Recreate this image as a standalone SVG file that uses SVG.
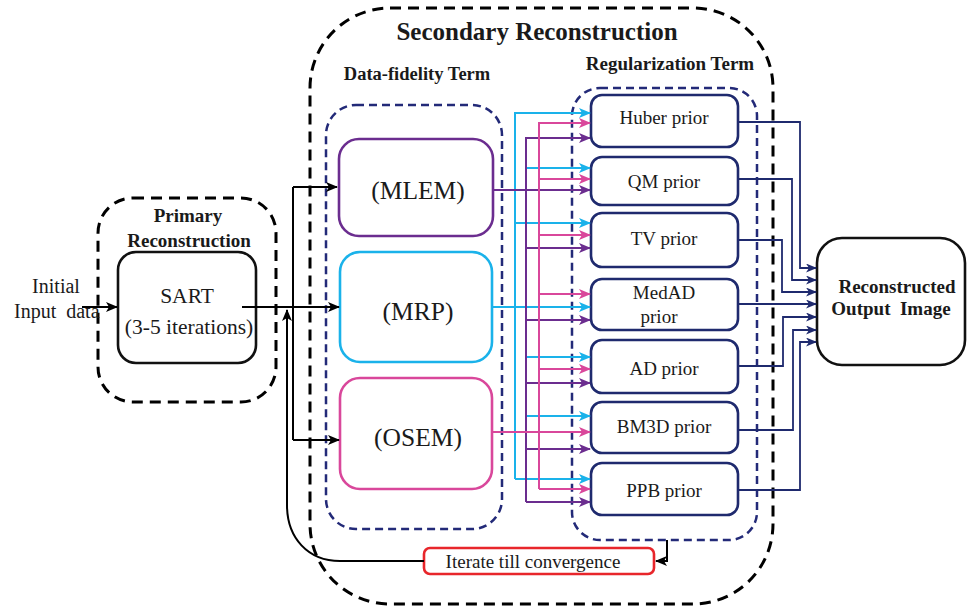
<svg xmlns="http://www.w3.org/2000/svg" width="967" height="609" viewBox="0 0 967 609">
<style>
text{font-family:"Liberation Serif","Times New Roman",serif;fill:#1a1a1a;white-space:pre}
.b{font-weight:bold}
.blk{fill:none;stroke:#000;stroke-width:3;stroke-dasharray:11 7}
.nvd{fill:none;stroke:#232a78;stroke-width:2.5;stroke-dasharray:8 5}
.box{fill:#fff;stroke-width:2.6}
.c{fill:none;stroke-width:2}
.k{stroke:#000}.cy{stroke:#1ab2ea}.pk{stroke:#d9479b}.pu{stroke:#6b2d8f}.nv{stroke:#1f2a6e;stroke-width:1.8}
</style>
<defs>
<marker id="ak" markerUnits="userSpaceOnUse" markerWidth="12" markerHeight="10" refX="11" refY="5" orient="auto"><path d="M0,0 L12,5 L0,10 L3,5 z" fill="#000"/></marker>
<marker id="acy" markerUnits="userSpaceOnUse" markerWidth="12" markerHeight="10" refX="11" refY="5" orient="auto"><path d="M0,0 L12,5 L0,10 L3,5 z" fill="#1ab2ea"/></marker>
<marker id="apk" markerUnits="userSpaceOnUse" markerWidth="12" markerHeight="10" refX="11" refY="5" orient="auto"><path d="M0,0 L12,5 L0,10 L3,5 z" fill="#d9479b"/></marker>
<marker id="apu" markerUnits="userSpaceOnUse" markerWidth="12" markerHeight="10" refX="11" refY="5" orient="auto"><path d="M0,0 L12,5 L0,10 L3,5 z" fill="#6b2d8f"/></marker>
<marker id="anv" markerUnits="userSpaceOnUse" markerWidth="11" markerHeight="9" refX="10" refY="4.5" orient="auto"><path d="M0,0 L11,4.5 L0,9 L3,4.5 z" fill="#1f2a6e"/></marker>
</defs>

<g id="secondary">
<rect class="blk" x="310" y="8" width="463" height="596" rx="80"/>
<text class="b" x="537" y="40" font-size="25" text-anchor="middle">Secondary Reconstruction</text>
</g>
<g id="primary">
<rect class="blk" x="98" y="198" width="178" height="204" rx="35"/>
<text class="b" x="188" y="222" font-size="19" text-anchor="middle">Primary</text>
<text class="b" x="189" y="247" font-size="19" text-anchor="middle">Reconstruction</text>
</g>
<g id="data-fidelity">
<rect class="nvd" x="326" y="105" width="176" height="424" rx="30"/>
<text class="b" x="417" y="80" font-size="18.5" text-anchor="middle">Data-fidelity Term</text>
</g>
<g id="regularization">
<rect class="nvd" x="572" y="88" width="185" height="452" rx="28"/>
<text class="b" x="670" y="70" font-size="19" text-anchor="middle">Regularization Term</text>
</g>

<g id="input">
<text x="56" y="293" font-size="20" text-anchor="middle">Initial</text>
<text x="14" y="318" font-size="20">Input  data</text>
</g>
<g id="sart">
<rect class="box" stroke="#111" x="118" y="252" width="138" height="111" rx="18"/>
<text x="187" y="303" font-size="21.5" text-anchor="middle">SART</text>
<text x="189" y="334" font-size="21.5" text-anchor="middle">(3-5 iterations)</text>
</g>
<g id="mlem">
<rect class="box" stroke="#6b2d8f" x="339" y="139" width="154" height="97" rx="20"/>
<text x="418" y="199" font-size="25.5" text-anchor="middle">(MLEM)</text>
</g>
<g id="mrp">
<rect class="box" stroke="#1ab2ea" x="340" y="252" width="152" height="110" rx="20"/>
<text x="418" y="320" font-size="25.5" text-anchor="middle">(MRP)</text>
</g>
<g id="osem">
<rect class="box" stroke="#d9479b" x="340" y="378" width="152" height="111" rx="20"/>
<text x="418" y="446" font-size="25.5" text-anchor="middle">(OSEM)</text>
</g>

<g id="huber"><rect class="box" stroke="#1f2a6e" x="591" y="95" width="147" height="52" rx="11"/><text x="664" y="124" font-size="19" text-anchor="middle">Huber prior</text></g>
<g id="qm"><rect class="box" stroke="#1f2a6e" x="591" y="157" width="147" height="48" rx="11"/><text x="664" y="188" font-size="19" text-anchor="middle">QM prior</text></g>
<g id="tv"><rect class="box" stroke="#1f2a6e" x="591" y="213" width="147" height="54" rx="11"/><text x="664" y="245" font-size="19" text-anchor="middle">TV prior</text></g>
<g id="medad"><rect class="box" stroke="#1f2a6e" x="591" y="279" width="147" height="51" rx="11"/><text x="664" y="299" font-size="19" text-anchor="middle">MedAD</text><text x="659" y="323" font-size="19" text-anchor="middle">prior</text></g>
<g id="ad"><rect class="box" stroke="#1f2a6e" x="591" y="340" width="147" height="53" rx="11"/><text x="664" y="375" font-size="19" text-anchor="middle">AD prior</text></g>
<g id="bm3d"><rect class="box" stroke="#1f2a6e" x="591" y="402" width="147" height="51" rx="11"/><text x="664" y="433" font-size="19" text-anchor="middle">BM3D prior</text></g>
<g id="ppb"><rect class="box" stroke="#1f2a6e" x="591" y="463" width="147" height="52" rx="11"/><text x="664" y="497" font-size="19" text-anchor="middle">PPB prior</text></g>

<g id="output">
<rect class="box" stroke="#111" x="817" y="238" width="148" height="127" rx="25"/>
<text class="b" x="897" y="293" font-size="19" text-anchor="middle">Reconstructed</text>
<text class="b" x="891" y="315" font-size="19" text-anchor="middle">Output  Image</text>
</g>

<g id="iterate">
<rect class="box" stroke="#e8262b" x="424" y="548" width="230" height="26" rx="6"/>
<text x="533" y="568" font-size="19" text-anchor="middle">Iterate till convergence</text>
</g>

<g id="connectors">
<path class="c k" d="M82,307 H117" marker-end="url(#ak)"/>
<path class="c k" d="M242,307 H339" marker-end="url(#ak)"/>
<path class="c k" d="M293,187 V440"/>
<path class="c k" d="M293,187 H337" marker-end="url(#ak)"/>
<path class="c k" d="M293,440 H339" marker-end="url(#ak)"/>
<path class="c k" d="M424,561 H340 C308,561 287,538 287,505 V310" marker-end="url(#ak)"/>
<path class="c k" d="M667,540 V561 H656" marker-end="url(#ak)"/>
<path class="c cy" d="M515,479 V113 H590" marker-end="url(#acy)"/>
<path class="c cy" d="M527,168 H590" marker-end="url(#acy)"/>
<path class="c cy" d="M515,223 H590" marker-end="url(#acy)"/>
<path class="c cy" d="M492,307 H590" marker-end="url(#acy)"/>
<path class="c cy" d="M527,357 H590" marker-end="url(#acy)"/>
<path class="c cy" d="M527,416 H590" marker-end="url(#acy)"/>
<path class="c cy" d="M515,479 H590" marker-end="url(#acy)"/>
<path class="c pu" d="M526,502 V138 H590" marker-end="url(#apu)"/>
<path class="c pu" d="M493,190 H590" marker-end="url(#apu)"/>
<path class="c pu" d="M526,248 H590" marker-end="url(#apu)"/>
<path class="c pu" d="M526,320 H590" marker-end="url(#apu)"/>
<path class="c pu" d="M526,383 H590" marker-end="url(#apu)"/>
<path class="c pu" d="M526,449 H590" marker-end="url(#apu)"/>
<path class="c pu" d="M526,502 H590" marker-end="url(#apu)"/>
<path class="c pk" d="M539,489 V123 H590" marker-end="url(#apk)"/>
<path class="c pk" d="M539,179 H590" marker-end="url(#apk)"/>
<path class="c pk" d="M539,235 H590" marker-end="url(#apk)"/>
<path class="c pk" d="M539,294 H590" marker-end="url(#apk)"/>
<path class="c pk" d="M539,369 H590" marker-end="url(#apk)"/>
<path class="c pk" d="M492,432 H590" marker-end="url(#apk)"/>
<path class="c pk" d="M539,489 H590" marker-end="url(#apk)"/>
<path class="c nv" d="M738,122 H800 V268 H816" marker-end="url(#anv)"/>
<path class="c nv" d="M738,179 H792 V280 H816" marker-end="url(#anv)"/>
<path class="c nv" d="M738,240 H782 V292 H816" marker-end="url(#anv)"/>
<path class="c nv" d="M738,304 H816" marker-end="url(#anv)"/>
<path class="c nv" d="M738,366 H783 V317 H816" marker-end="url(#anv)"/>
<path class="c nv" d="M738,430 H793 V330 H816" marker-end="url(#anv)"/>
<path class="c nv" d="M738,490 H800 V342 H816" marker-end="url(#anv)"/>
</g>
</svg>
